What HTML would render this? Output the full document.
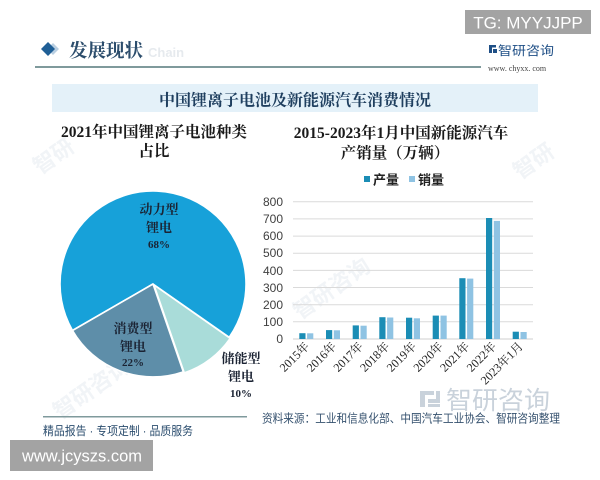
<!DOCTYPE html>
<html>
<head>
<meta charset="utf-8">
<style>
  html, body { margin:0; padding:0; background:#ffffff; }
  body { width:600px; height:480px; overflow:hidden; }
  svg { display:block; }
  .serif { font-family:"Liberation Serif","Noto Serif CJK SC",serif; }
  .sans { font-family:"Liberation Sans","Noto Sans CJK SC",sans-serif; }
</style>
</head>
<body>
<svg width="600" height="480" viewBox="0 0 600 480" xmlns="http://www.w3.org/2000/svg">
  <rect x="0" y="0" width="600" height="480" fill="#ffffff"/>

  <!-- faint watermarks -->
  <g fill="#f1f4f7" class="sans" font-size="22" font-weight="bold">
    <text x="40" y="175" transform="rotate(-35 40 175)">智研</text>
    <text x="60" y="420" transform="rotate(-35 60 420)">智研咨询</text>
    <text x="300" y="320" transform="rotate(-35 300 320)">智研咨询</text>
    <text x="520" y="180" transform="rotate(-35 520 180)">智研</text>
  </g>

  <!-- TG box -->
  <rect x="465" y="10" width="126" height="24" fill="#a3a3a3"/>
  <text x="528" y="28.5" text-anchor="middle" class="sans" font-size="17" fill="#ffffff">TG: MYYJJPP</text>

  <!-- header -->
  <polygon points="53,43 59,49 53,55 47,49" fill="#b9cfe2"/>
  <polygon points="48,42 55,49 48,56 41,49" fill="#1f5f96"/>
  <text x="69" y="57" class="serif" font-size="18.5" font-weight="bold" fill="#2c4d6c">发展现状</text>
  <text x="148" y="57" class="sans" font-size="13" font-weight="bold" fill="#e6eaee">Chain</text>
  <rect x="35" y="66" width="446" height="2" fill="#7f9a9c"/>

  <!-- top-right logo -->
  <g>
    <rect x="489" y="45" width="3" height="8" fill="#1f4f86"/>
    <rect x="489" y="45" width="7" height="2.5" fill="#1f4f86"/>
    <rect x="493" y="49" width="4" height="4" fill="#1f4f86"/>
    <text x="498" y="55" class="sans" font-size="12.5" fill="#1f4f86" textLength="56" lengthAdjust="spacingAndGlyphs">智研咨询</text>
    <text x="488" y="71" class="serif" font-size="8" fill="#444">www. chyxx. com</text>
  </g>

  <!-- title band -->
  <rect x="52" y="84" width="486" height="28" fill="#e4f1f9"/>
  <text x="295" y="105.5" text-anchor="middle" class="serif" font-size="16" font-weight="bold" fill="#1f3f5f">中国锂离子电池及新能源汽车消费情况</text>

  <!-- LEFT: pie chart -->
  <text x="154" y="137" text-anchor="middle" class="serif" font-size="15.5" font-weight="bold" fill="#1a1a1a">2021年中国锂离子电池种类</text>
  <text x="154" y="156" text-anchor="middle" class="serif" font-size="15.5" font-weight="bold" fill="#1a1a1a">占比</text>

  <g stroke="#ffffff" stroke-width="1.6" stroke-linejoin="round">
    <path d="M153,284 L72.5,330.5 A93,93 0 1 1 229.2,337.3 Z" fill="#17a1d9"/>
    <path d="M153,284 L183.3,371.9 A93,93 0 0 1 72.5,330.5 Z" fill="#5e8ea9"/>
    <path d="M154,285 L230.2,338.3 A93,93 0 0 1 184.3,372.9 Z" fill="#a9dcd9"/>
  </g>

  <g class="serif" font-weight="bold" text-anchor="middle" fill="#1b2333">
    <text x="159" y="214" font-size="13">动力型</text>
    <text x="159" y="232" font-size="13">锂电</text>
    <text x="159" y="248" font-size="11">68%</text>
    <text x="133" y="333" font-size="13">消费型</text>
    <text x="133" y="351" font-size="13">锂电</text>
    <text x="133" y="366" font-size="11">22%</text>
    <text x="241" y="363" font-size="13">储能型</text>
    <text x="241" y="381" font-size="13">锂电</text>
    <text x="241" y="397" font-size="11">10%</text>
  </g>

  <!-- RIGHT: bar chart -->
  <text x="401" y="138" text-anchor="middle" class="serif" font-size="15.5" font-weight="bold" fill="#1a1a1a">2015-2023年1月中国新能源汽车</text>
  <text x="395" y="158" text-anchor="middle" class="serif" font-size="15.5" font-weight="bold" fill="#1a1a1a">产销量（万辆）</text>

  <!-- legend -->
  <rect x="364" y="176" width="6" height="6" fill="#1b8db5"/>
  <text x="373" y="184.5" class="sans" font-size="13" font-weight="bold" fill="#222">产量</text>
  <rect x="409" y="176" width="6" height="6" fill="#8fc3e3"/>
  <text x="418" y="184.5" class="sans" font-size="13" font-weight="bold" fill="#222">销量</text>

  <!-- gridlines -->
  <g stroke="#dadada" stroke-width="1">
    <line x1="293" y1="201.8" x2="533" y2="201.8"/>
    <line x1="293" y1="218.9" x2="533" y2="218.9"/>
    <line x1="293" y1="236.1" x2="533" y2="236.1"/>
    <line x1="293" y1="253.2" x2="533" y2="253.2"/>
    <line x1="293" y1="270.4" x2="533" y2="270.4"/>
    <line x1="293" y1="287.5" x2="533" y2="287.5"/>
    <line x1="293" y1="304.7" x2="533" y2="304.7"/>
    <line x1="293" y1="321.8" x2="533" y2="321.8"/>
  </g>
  <line x1="293" y1="339" x2="533" y2="339" stroke="#cfcfcf" stroke-width="1"/>

  <!-- y labels -->
  <g class="sans" font-size="12" fill="#404040" text-anchor="end">
    <text x="283" y="206">800</text>
    <text x="283" y="223">700</text>
    <text x="283" y="240">600</text>
    <text x="283" y="257">500</text>
    <text x="283" y="275">400</text>
    <text x="283" y="292">300</text>
    <text x="283" y="309">200</text>
    <text x="283" y="326">100</text>
    <text x="283" y="343">0</text>
  </g>

  <!-- bars: production -->
  <g fill="#1b8db5">
    <rect x="299.3" y="333.2" width="6.2" height="5.8"/>
    <rect x="326.0" y="330.1" width="6.2" height="8.9"/>
    <rect x="352.7" y="325.4" width="6.2" height="13.6"/>
    <rect x="379.3" y="317.2" width="6.2" height="21.8"/>
    <rect x="406.0" y="317.7" width="6.2" height="21.3"/>
    <rect x="432.7" y="315.6" width="6.2" height="23.4"/>
    <rect x="459.3" y="278.2" width="6.2" height="60.8"/>
    <rect x="486.0" y="218.0" width="6.2" height="121.0"/>
    <rect x="512.7" y="331.7" width="6.2" height="7.3"/>
  </g>
  <!-- bars: sales -->
  <g fill="#8fc3e3">
    <rect x="307.1" y="333.3" width="6.2" height="5.7"/>
    <rect x="333.8" y="330.3" width="6.2" height="8.7"/>
    <rect x="360.5" y="325.7" width="6.2" height="13.3"/>
    <rect x="387.1" y="317.5" width="6.2" height="21.5"/>
    <rect x="413.8" y="318.3" width="6.2" height="20.7"/>
    <rect x="440.5" y="315.6" width="6.2" height="23.4"/>
    <rect x="467.1" y="278.6" width="6.2" height="60.4"/>
    <rect x="493.8" y="220.9" width="6.2" height="118.1"/>
    <rect x="520.5" y="332.0" width="6.2" height="7.0"/>
  </g>

  <!-- x labels -->
  <g class="serif" font-size="12" fill="#222" text-anchor="end">
    <text x="310" y="347" transform="rotate(-45 310 347)">2015年</text>
    <text x="337" y="347" transform="rotate(-45 337 347)">2016年</text>
    <text x="363.7" y="347" transform="rotate(-45 363.7 347)">2017年</text>
    <text x="390.3" y="347" transform="rotate(-45 390.3 347)">2018年</text>
    <text x="417" y="347" transform="rotate(-45 417 347)">2019年</text>
    <text x="443.7" y="347" transform="rotate(-45 443.7 347)">2020年</text>
    <text x="470.3" y="347" transform="rotate(-45 470.3 347)">2021年</text>
    <text x="497" y="347" transform="rotate(-45 497 347)">2022年</text>
    <text x="523.7" y="347" transform="rotate(-45 523.7 347)">2023年1月</text>
  </g>

  <!-- watermark logo bottom right -->
  <g fill="#c9d2db">
    <rect x="420" y="391" width="5" height="16"/>
    <rect x="420" y="391" width="14" height="4"/>
    <rect x="428" y="399" width="12" height="4"/>
    <rect x="436" y="391" width="4" height="12"/>
    <rect x="428" y="404" width="12" height="3"/>
  </g>
  <text x="446" y="409" class="sans" font-size="25" fill="#c9d2db" textLength="104" lengthAdjust="spacingAndGlyphs">智研咨询</text>

  <!-- footer -->
  <rect x="43" y="416" width="204" height="1.5" fill="#7f9a9c"/>
  <text x="43" y="435" class="sans" font-size="12" fill="#2b4d6e" textLength="150" lengthAdjust="spacingAndGlyphs">精品报告 · 专项定制 · 品质服务</text>
  <text x="262" y="422.5" class="sans" font-size="11.7" fill="#35516e" textLength="298" lengthAdjust="spacingAndGlyphs">资料来源：工业和信息化部、中国汽车工业协会、智研咨询整理</text>

  <!-- bottom-left box -->
  <rect x="10" y="440" width="143" height="31" fill="#a3a3a3"/>
  <text x="82" y="461.5" text-anchor="middle" class="sans" font-size="16.5" fill="#ffffff">www.jcyszs.com</text>
</svg>
</body>
</html>
